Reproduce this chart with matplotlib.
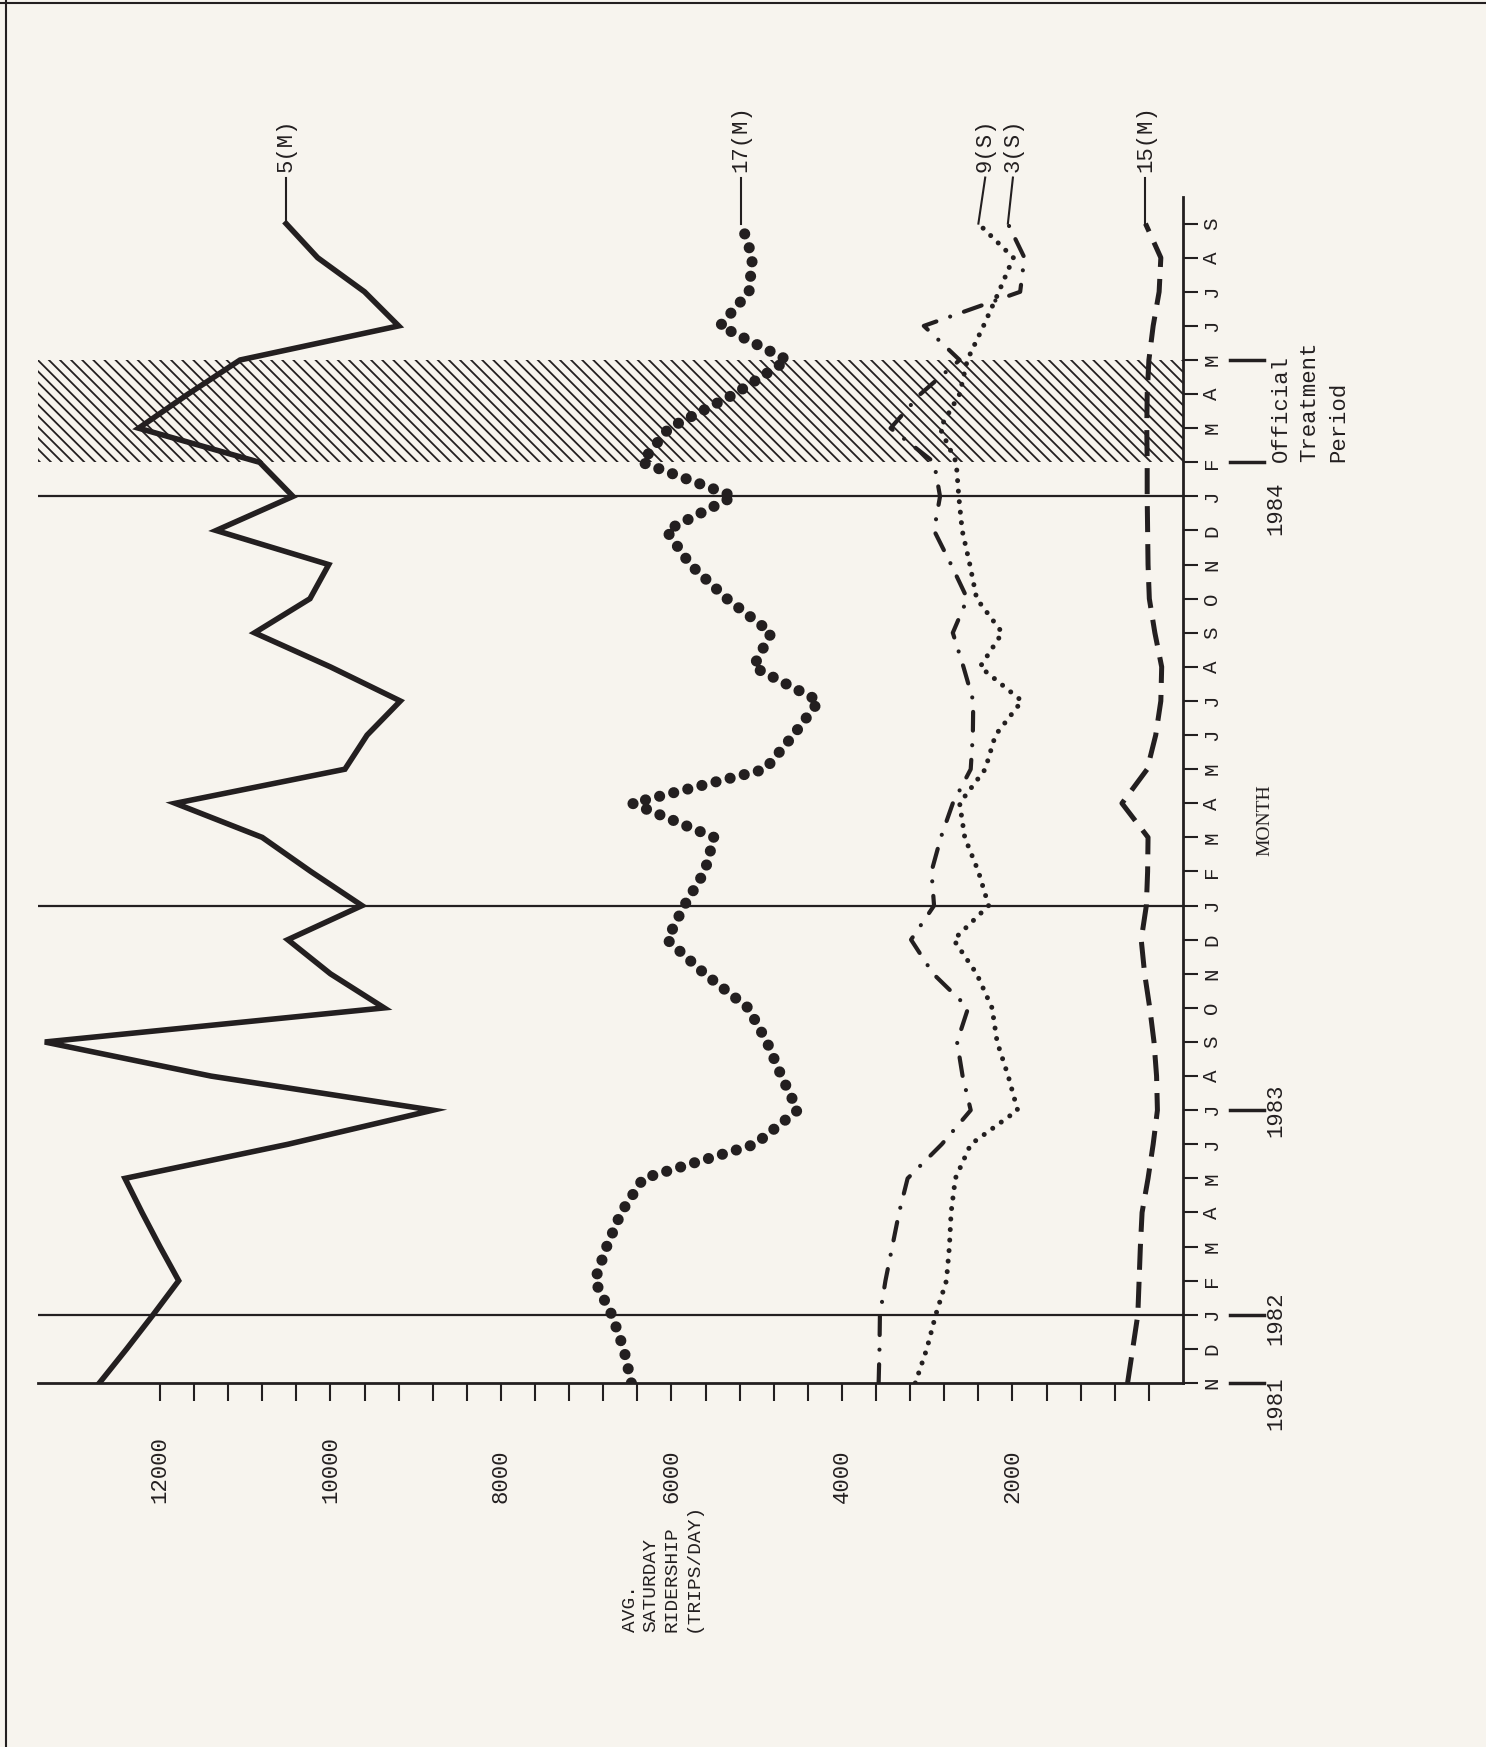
import numpy as np
import matplotlib.pyplot as plt
from matplotlib.lines import Line2D

# months Nov 1981 .. Sep 1984
months = ['N', 'D', 'J', 'F', 'M', 'A', 'M', 'J', 'J', 'A', 'S', 'O',
          'N', 'D', 'J', 'F', 'M', 'A', 'M', 'J', 'J', 'A', 'S', 'O',
          'N', 'D', 'J', 'F', 'M', 'A', 'M', 'J', 'J', 'A', 'S']

route5 = [12710, 12390, 12080, 11780, 12000, 12210, 12410, 10500, 8800, 11400,
          13350, 9370, 10000, 10500, 9630, 10230, 10800, 11820, 9830, 9570,
          9180, 10000, 10890, 10240, 10020, 11340, 10440, 10830, 12250, 11670,
          11060, 9200, 9600, 10150, 10520]
route17 = [6470, 6560, 6700, 6900, 6760, 6590, 6330, 5020, 4520, 4710,
           4880, 5100, 5610, 6050, 5850, 5610, 5500, 6460, 4900, 4570,
           4270, 5040, 4830, 5350, 5780, 6060, 5270, 6350, 6030, 5260,
           4640, 5430, 5090, 5050, 5180]
route9 = [3140, 3005, 2900, 2775, 2740, 2720, 2670, 2490, 1940, 2050,
          2180, 2240, 2420, 2690, 2280, 2400, 2560, 2620, 2320, 2200,
          1890, 2380, 2120, 2420, 2500, 2590, 2630, 2660, 2850, 2620,
          2530, 2340, 2160, 1990, 2400]
route3 = [3570, 3560, 3555, 3490, 3410, 3330, 3230, 2830, 2490, 2585,
          2650, 2520, 2930, 3190, 2920, 2950, 2840, 2700, 2490, 2465,
          2460, 2575, 2700, 2530, 2720, 2920, 2850, 2920, 3430, 3080,
          2620, 3040, 1910, 1860, 2054]
route15 = [650, 590, 530, 515, 500, 480, 410, 350, 300, 310,
           340, 390, 450, 490, 430, 415, 410, 716, 420, 320,
           260, 250, 330, 395, 410, 415, 420, 420, 425, 420,
           400, 350, 280, 260, 440]

value_ticks = list(range(400, 12001, 400))
value_labels = [2000, 4000, 6000, 8000, 10000, 12000]
year_breaks = [2, 14, 26]            # January lines
treatment = (27, 30)                 # Feb .. May 1984
year_marks = {'1981': (0, -0.6), '1982': (2, 1.9), '1983': (8, 8.0), '1984': (None, 25.65)}

ink = '#231f20'
paper = '#f7f4ee'
mono = 'Liberation Mono'

plt.rcParams['hatch.linewidth'] = 1.3
plt.rcParams['hatch.color'] = ink

fig = plt.figure(figsize=(14.86, 17.47), dpi=100, facecolor=paper)
ax = fig.add_axes([38 / 1486, 1 - 1383 / 1747, 1145 / 1486, 1186 / 1747])
ax.set_facecolor(paper)

idx = np.arange(len(months))
ax.set_xlim(13430, 0)
ax.set_ylim(0, 34.78)

# treatment period and year separators
ax.axhspan(treatment[0], treatment[1], facecolor='none', edgecolor=ink,
           hatch='\\\\\\', lw=0, zorder=1)
for b in year_breaks:
    ax.axhline(b, color=ink, lw=1.6, zorder=1.5)

# series
ax.plot(route5, idx, color=ink, lw=4, solid_joinstyle='miter', zorder=3)
ax.plot(route17, idx, color=ink, lw=8, linestyle=(0, (0.01, 1.3)),
        dash_capstyle='round', zorder=3)
ax.plot(route9, idx, color=ink, lw=3.6, linestyle=(0, (0.01, 2.1)),
        dash_capstyle='round', zorder=3)
ax.plot(route3, idx, color=ink, lw=3, linestyle=(0, (4.5, 3.5, 0.01, 3.5)),
        dash_capstyle='round', zorder=3)
ax.plot(route15, idx, color=ink, lw=3.6, linestyle=(0, (5.2, 2.4)),
        dash_capstyle='butt', zorder=3)

# route labels with leaders
labels = [('5(M)', route5[-1], route5[-1]), ('17(M)', route17[-1], route17[-1]),
          ('9(S)', route9[-1], 2320), ('3(S)', route3[-1], 1995),
          ('15(M)', route15[-1], route15[-1])]
for name, vend, vlab in labels:
    ax.plot([vend, vlab], [34, 35.35], color=ink, lw=1.5, clip_on=False)
    ax.text(vlab, 35.5, name, rotation=90, ha='center', va='bottom',
            fontsize=16, family=mono, color=ink)

# axes styling
for s in ['top', 'left']:
    ax.spines[s].set_visible(False)
for s in ['bottom', 'right']:
    ax.spines[s].set_linewidth(2)
    ax.spines[s].set_color(ink)

ax.set_xticks(value_ticks)
ax.set_xticklabels([])
ax.tick_params(axis='x', direction='out', length=13, width=1.5, color=ink)
xt = ax.get_xaxis_transform()
for v in value_labels:
    ax.text(v, -0.1012, str(v), transform=xt, rotation=90, ha='center',
            va='bottom', fontsize=16, family=mono, color=ink)

ax.yaxis.tick_right()
ax.set_yticks(idx)
ax.set_yticklabels(months, rotation=90, fontsize=15, family=mono, color=ink)
for t in ax.get_yticklabels():
    t.set_va('center')
ax.tick_params(axis='y', direction='out', length=11, width=1.5, color=ink, pad=3)

# year markers and notes below the month axis
yt = ax.get_yaxis_transform()
for name, (bar, center) in year_marks.items():
    if bar is not None:
        ax.plot([1.041, 1.0707], [bar, bar], transform=yt, color=ink, lw=2.5, clip_on=False)
    ax.text(1.0812, center, name, transform=yt, rotation=90, ha='center',
            va='center', fontsize=16, family=mono, color=ink)
for b in treatment:
    ax.plot([1.041, 1.0707], [b, b], transform=yt, color=ink, lw=2.5, clip_on=False)
ax.text(1.111, treatment[0], 'Official\nTreatment\nPeriod', transform=yt,
        rotation=90, ha='center', va='bottom', multialignment='left',
        linespacing=1.5, fontsize=16, family=mono, color=ink)
ax.text(1.0716, 16.5, 'MONTH', transform=yt, rotation=90, ha='center',
        va='center', fontsize=14, family='Liberation Serif', color=ink)

# value axis title
ax.text(6117, -0.21, 'AVG.\nSATURDAY\nRIDERSHIP\n(TRIPS/DAY)', transform=xt,
        rotation=90, ha='center', va='bottom', multialignment='left',
        linespacing=1.3, fontsize=14, family=mono, color=ink)

# scan border
fig.add_artist(Line2D([6 / 1486, 6 / 1486], [0, 1], transform=fig.transFigure,
                      color=ink, lw=1.5))
fig.add_artist(Line2D([0, 1], [1 - 3 / 1747, 1 - 3 / 1747], transform=fig.transFigure,
                      color=ink, lw=1.5))

fig.savefig('out.png', dpi=100, facecolor=paper)
